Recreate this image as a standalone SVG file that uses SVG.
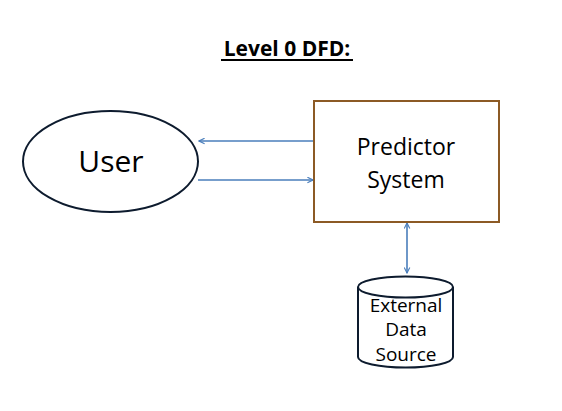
<svg xmlns="http://www.w3.org/2000/svg" width="562" height="411" viewBox="0 0 562 411">
<style>
text{font-family:"Open Sans","Liberation Sans",sans-serif;fill:#000;text-anchor:middle}
.c{stroke:#4a7ebb;stroke-width:1.6;fill:none}
.n{fill:#fff;stroke:#0d1b2e;stroke-width:2}
</style>
<defs>
<marker id="ah" viewBox="0 0 10 10" refX="9" refY="5" markerWidth="7" markerHeight="7" orient="auto-start-reverse" markerUnits="userSpaceOnUse">
<path d="M1,1 L9,5 L1,9" fill="none" stroke="#4a7ebb" stroke-width="1.6"/>
</marker>
</defs>
<rect width="562" height="411" fill="#fff"/>
<g id="title">
<text x="287" y="56" font-size="21" font-weight="bold">Level 0 DFD:</text>
<line x1="221" y1="60" x2="353" y2="60" stroke="#000" stroke-width="2"/>
</g>
<g id="connectors">
<line class="c" x1="314" y1="141" x2="199" y2="141" marker-end="url(#ah)"/>
<line class="c" x1="198" y1="180" x2="313" y2="180" marker-end="url(#ah)"/>
<line class="c" x1="407" y1="223" x2="407" y2="273" marker-start="url(#ah)" marker-end="url(#ah)"/>
</g>
<g id="user">
<ellipse class="n" cx="110.5" cy="161.5" rx="87.5" ry="50.5"/>
<text x="111" y="172" font-size="30">User</text>
</g>
<g id="predictor">
<rect x="314" y="101" width="185" height="121" fill="#fff" stroke="#8c5a25" stroke-width="2"/>
<text x="406" y="155" font-size="23">Predictor</text>
<text x="406" y="188" font-size="23">System</text>
</g>
<g id="datasource">
<path class="n" d="M358,287 L358,357 A47.5,10.5 0 0 0 453,357 L453,287"/>
<ellipse class="n" cx="405.5" cy="287" rx="47.5" ry="10.5"/>
<text x="406" y="312" font-size="19">External</text>
<text x="406" y="336" font-size="19">Data</text>
<text x="406" y="361" font-size="19">Source</text>
</g>
</svg>
